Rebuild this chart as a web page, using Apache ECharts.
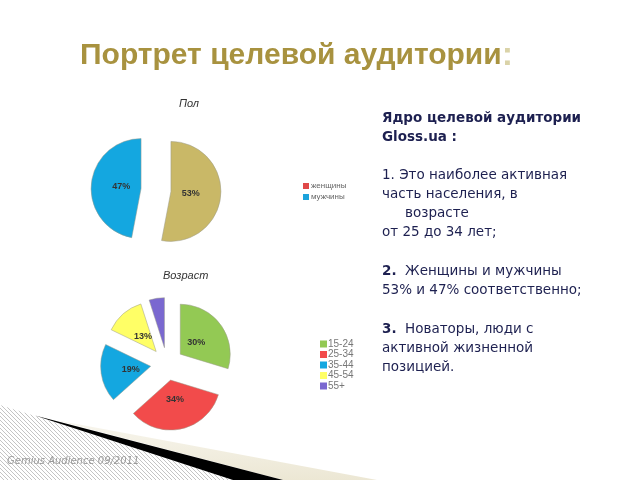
<!DOCTYPE html>
<html>
<head>
<meta charset="utf-8">
<script src="https://cdn.jsdelivr.net/npm/echarts@6/dist/echarts.min.js"></script>
<style>html,body{margin:0;padding:0;background:#fff;}#c{width:640px;height:480px;}</style>
</head>
<body>
<div id="c"></div>
<script>
// ---- data ----
const genderCats = ['женщины', 'мужчины'];
const genderVals = [53, 47];
const genderColors = ['#C9B867', '#14A7E0'];
const genderLegendColors = ['#E04848', '#1BA3DC'];

const ageCats = ['15-24', '25-34', '35-44', '45-54', '55+'];
const ageVals = [30, 34, 19, 13, 5];
const ageColors = ['#93C954', '#F24B4B', '#14A7E0', '#FFFF66', '#7A68D0'];

const mainTitle = 'Портрет целевой аудитории';
const genderTitle = 'Пол';
const ageTitle = 'Возраст';
const sourceText = 'Gemius Audience 09/2011';

// ---- hatch pattern ----
const pc = document.createElement('canvas');
pc.width = 4; pc.height = 4;
const pctx = pc.getContext('2d');
pctx.fillStyle = '#ffffff'; pctx.fillRect(0, 0, 4, 4);
pctx.strokeStyle = '#c4c4c4'; pctx.lineWidth = 1;
pctx.beginPath();
pctx.moveTo(-1, -1); pctx.lineTo(5, 5);
pctx.moveTo(-1, 3); pctx.lineTo(1, 5);
pctx.moveTo(3, -1); pctx.lineTo(5, 1);
pctx.stroke();

const chart = echarts.init(document.getElementById('c'), null, {renderer: 'canvas'});

function pieBase(center, offset) {
  return {
    type: 'pie', center: center, radius: [0, 50], startAngle: 90, clockwise: true,
    selectedMode: 'multiple', selectedOffset: offset, silent: true,
    avoidLabelOverlap: false, emphasis: {disabled: true}, animation: false
  };
}

const genderMain = Object.assign(pieBase([156, 190], 15), {
  label: {show: false}, labelLine: {show: false},
  itemStyle: {borderColor: '#9a9a8a', borderWidth: 0.5},
  data: genderCats.map((n, i) => ({name: n, value: genderVals[i], selected: true, itemStyle: {color: genderColors[i]}}))
});
const genderLbl = Object.assign(pieBase([156, 190], 15), {
  radius: [0, 34], labelLine: {show: false},
  itemStyle: {color: 'rgba(0,0,0,0)'},
  label: {show: true, position: 'inside', formatter: '{c}%', fontSize: 9, fontWeight: 'bold', color: '#333', fontFamily: 'Liberation Sans'},
  data: genderCats.map((n, i) => ({name: n, value: genderVals[i], selected: true}))
});
const ageMain = Object.assign(pieBase([167, 364], 16.5), {
  label: {show: false}, labelLine: {show: false},
  itemStyle: {borderColor: '#9a9a8a', borderWidth: 0.5},
  data: ageCats.map((n, i) => ({name: n, value: ageVals[i], selected: true, itemStyle: {color: ageColors[i]}}))
});
const ageLbl = Object.assign(pieBase([167, 364], 16.5), {
  radius: [0, 34], labelLine: {show: false},
  itemStyle: {color: 'rgba(0,0,0,0)'},
  label: {show: true, position: 'inside', formatter: '{c}%', fontSize: 9, fontWeight: 'bold', color: '#333', fontFamily: 'Liberation Sans'},
  data: ageCats.map((n, i) => ({name: n, value: ageVals[i], selected: true}))
});

const textColor = '#1d2050';
const bodyFont = 'DejaVu Sans';
const bodySize = 13.5;
const lines = [
  {t: '{b|Ядро целевой аудитории}', x: 382, y: 118},
  {t: '{b|Gloss.ua :}', x: 382, y: 137},
  {t: '1. Это наиболее активная', x: 382, y: 175},
  {t: 'часть населения, в', x: 382, y: 194},
  {t: 'возрасте', x: 405, y: 213},
  {t: 'от 25 до 34 лет;', x: 382, y: 232},
  {t: '{b|2.}  Женщины и мужчины', x: 382, y: 271},
  {t: '53% и 47% соответственно;', x: 382, y: 290},
  {t: '{b|3.}  Новаторы, люди с', x: 382, y: 329},
  {t: 'активной жизненной', x: 382, y: 348},
  {t: 'позицией.', x: 382, y: 367}
];

const graphics = [
  {type: 'polygon', z: 0, shape: {points: [[0, 405], [35, 416], [233, 480], [0, 480]]},
   style: {fill: {image: pc, repeat: 'repeat'}}},
  {type: 'polygon', z: 0, shape: {points: [[55, 420], [377, 480], [283, 480]]},
   style: {fill: new echarts.graphic.LinearGradient(0, 0, 0, 1, [{offset: 0, color: '#f8f6ee'}, {offset: 1, color: '#ece7d4'}])}},
  {type: 'polygon', z: 1, shape: {points: [[35, 415.5], [283, 480], [233, 480]]},
   style: {fill: '#000'}},
  {type: 'text', z: 5, x: 7, y: 461, style: {text: sourceText, fill: '#9a9a9a', font: 'italic 10px "DejaVu Sans"', verticalAlign: 'middle'}}
];
lines.forEach(l => graphics.push({
  type: 'text', z: 5, x: l.x, y: l.y,
  style: {
    text: l.t, fill: textColor, fontSize: bodySize, fontFamily: bodyFont, verticalAlign: 'middle',
    rich: {b: {fontWeight: 'bold', fontSize: bodySize, fontFamily: bodyFont, fill: textColor, color: textColor}}
  }
}));

chart.setOption({
  animation: false,
  backgroundColor: '#fff',
  title: [
    {text: '{a|' + mainTitle + '}{b|:}', left: 75, top: 34,
     textStyle: {rich: {
       a: {fontSize: 30, fontWeight: 'bold', color: '#A8923F', fontFamily: 'Liberation Sans'},
       b: {fontSize: 34, fontWeight: 'bold', color: '#DAD3A8', fontFamily: 'Liberation Sans'}
     }}},
    {text: genderTitle, left: 174, top: 93, textStyle: {fontSize: 11, fontStyle: 'italic', fontWeight: 'normal', color: '#333', fontFamily: 'Liberation Sans'}},
    {text: ageTitle, left: 158, top: 265, textStyle: {fontSize: 11, fontStyle: 'italic', fontWeight: 'normal', color: '#333', fontFamily: 'Liberation Sans'}}
  ],
  legend: [
    {orient: 'vertical', left: 298, top: 177, icon: 'rect', itemWidth: 6, itemHeight: 6, itemGap: 3,
     selectedMode: false, itemStyle: {borderWidth: 0},
     textStyle: {fontSize: 8, color: '#666', fontFamily: 'Liberation Sans', padding: [0, 0, 0, -3]},
     data: genderCats.map((n, i) => ({name: n, itemStyle: {color: genderLegendColors[i], borderWidth: 0}}))},
    {orient: 'vertical', left: 315, top: 334, icon: 'rect', itemWidth: 7, itemHeight: 7, itemGap: 0.5,
     selectedMode: false, itemStyle: {borderWidth: 0},
     textStyle: {fontSize: 10, color: '#777', fontFamily: 'Liberation Sans', padding: [0, 0, 0, -4]},
     data: ageCats.map((n, i) => ({name: n, itemStyle: {color: ageColors[i], borderWidth: 0}}))}
  ],
  series: [genderMain, genderLbl, ageMain, ageLbl],
  graphic: graphics
});
</script>
</body>
</html>
